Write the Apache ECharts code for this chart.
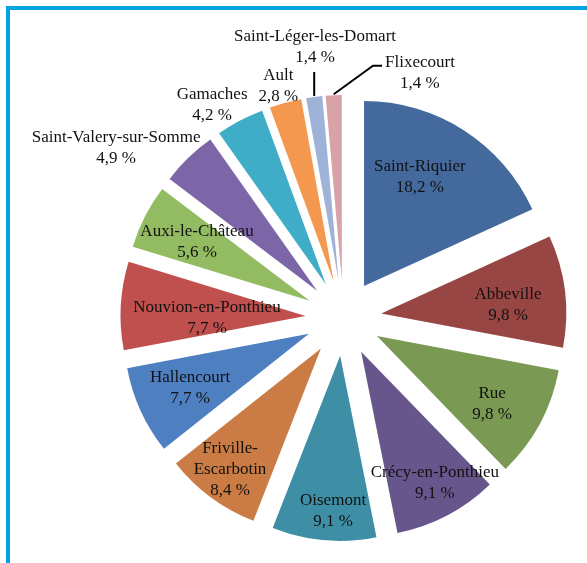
<!DOCTYPE html>
<html>
<head>
<meta charset="utf-8">
<script src="https://cdn.jsdelivr.net/npm/echarts@6/dist/echarts.min.js"></script>
<style>
  html, body { margin: 0; padding: 0; background: #ffffff; }
  #chart { width: 587px; height: 563px; }
</style>
</head>
<body>
<div id="chart"></div>
<script>
// Communes and their share (%)
const communes = [
  'Saint-Riquier', 'Abbeville', 'Rue', 'Crécy-en-Ponthieu', 'Oisemont',
  'Friville-Escarbotin', 'Hallencourt', 'Nouvion-en-Ponthieu', 'Auxi-le-Château',
  'Saint-Valery-sur-Somme', 'Gamaches', 'Ault', 'Saint-Léger-les-Domart', 'Flixecourt'
];
const shares = [18.2, 9.8, 9.8, 9.1, 9.1, 8.4, 7.7, 7.7, 5.6, 4.9, 4.2, 2.8, 1.4, 1.4];
const sliceColors = [
  '#44699c', '#984643', '#7a9a53', '#67568c', '#3e8fa6', '#cb7c44', '#4d7fc1',
  '#bf504e', '#93bb62', '#7c66a8', '#3fadc8', '#f5984f', '#9fb3d8', '#d7a3a7'
];

// Label placement: distance from the pie centre (px) and bearing clockwise from 12 o'clock (deg)
const labelSpots = [
  [160, 28.5], [165, 85.5], [172, 120.2], [189, 151.1], [193, 183.1],
  [189, 216.9], [168.5, 245.6], [136.5, 269.8], [165, 297.4],
  [284, 306.8], [250, 328.3], [241, 344.3], [272.5, 354], [257, 17.3]
];
// Leader line style per label: null, 'below' (line rises to the label) or 'left'
const leaderKinds = [null, null, null, null, null, null, null, null, null, null, null, null, 'below', 'left'];

const CX = 343.5, CY = 318, R = 185, EXPLODE = 38;
const FONT = '"Liberation Serif", "Times New Roman", serif';

const total = shares.reduce((a, b) => a + b, 0);
const bisectors = [];
{
  let acc = 0;
  shares.forEach(v => { bisectors.push((acc + v / 2) / total * 360); acc += v; });
}
function bearing(deg) {
  const r = deg * Math.PI / 180;
  return [Math.sin(r), -Math.cos(r)];
}
function fmt(v) { return v.toFixed(1).replace('.', ',') + ' %'; }

// Exploded slices
const sliceData = communes.map((name, i) => ({
  name: name,
  value: shares[i],
  selected: true,
  itemStyle: { color: sliceColors[i] }
}));

// Same slices, unexploded and invisible, carrying the labels
const labelData = communes.map((name, i) => ({
  name: name,
  value: shares[i],
  label: { position: leaderKinds[i] ? 'outside' : 'inside' },
  labelLine: { show: !!leaderKinds[i] }
}));

const chart = echarts.init(document.getElementById('chart'), null, { renderer: 'canvas' });
chart.setOption({
  animation: false,
  backgroundColor: '#ffffff',
  graphic: [{
    type: 'polyline',
    shape: { points: [[8, 563], [8, 8], [587, 8]] },
    style: { stroke: '#00a3e0', lineWidth: 4, fill: null },
    silent: true
  }],
  series: [{
    type: 'pie',
    center: [CX, CY],
    radius: [0, R],
    startAngle: 90,
    clockwise: true,
    selectedMode: 'multiple',
    selectedOffset: EXPLODE,
    silent: true,
    emphasis: { disabled: true },
    itemStyle: { borderWidth: 0 },
    label: { show: false },
    labelLine: { show: false },
    data: sliceData
  }, {
    type: 'pie',
    z: 5,
    center: [CX, CY],
    radius: [0, R],
    startAngle: 90,
    clockwise: true,
    selectedMode: false,
    avoidLabelOverlap: false,
    silent: true,
    emphasis: { disabled: true },
    itemStyle: { color: 'rgba(0,0,0,0)', borderWidth: 0 },
    label: {
      show: true,
      color: '#111111',
      fontFamily: FONT,
      fontSize: 17,
      lineHeight: 21,
      align: 'center',
      textBorderWidth: 0,
      formatter: p => p.name.replace('Friville-', 'Friville-\n') + '\n' + fmt(p.value)
    },
    labelLine: {
      lineStyle: { color: '#000000', width: 2 },
      length: 10,
      length2: 10
    },
    labelLayout: function (p) {
      const i = p.dataIndex;
      const spot = labelSpots[i];
      const d = bearing(spot[1]);
      const x = CX + spot[0] * d[0];
      const y = CY + spot[0] * d[1];
      const out = { x: x, y: y, align: 'center', verticalAlign: 'middle' };
      const kind = leaderKinds[i];
      if (kind) {
        const m = bearing(bisectors[i]);
        const sx = CX + (EXPLODE + R) * m[0];
        const sy = CY + (EXPLODE + R) * m[1];
        const w = p.labelRect.width, h = p.labelRect.height;
        const left = x - w / 2, top = y - h / 2, bottom = y + h / 2;
        if (kind === 'below') {
          out.labelLinePoints = [[sx, sy - 1], [sx, (sy + bottom) / 2], [sx, bottom + 4]];
        } else {
          const ly = top + 14;
          out.labelLinePoints = [[sx, sy - 1], [left - 12, ly], [left - 3, ly]];
        }
      }
      return out;
    },
    data: labelData
  }]
});
</script>
</body>
</html>
